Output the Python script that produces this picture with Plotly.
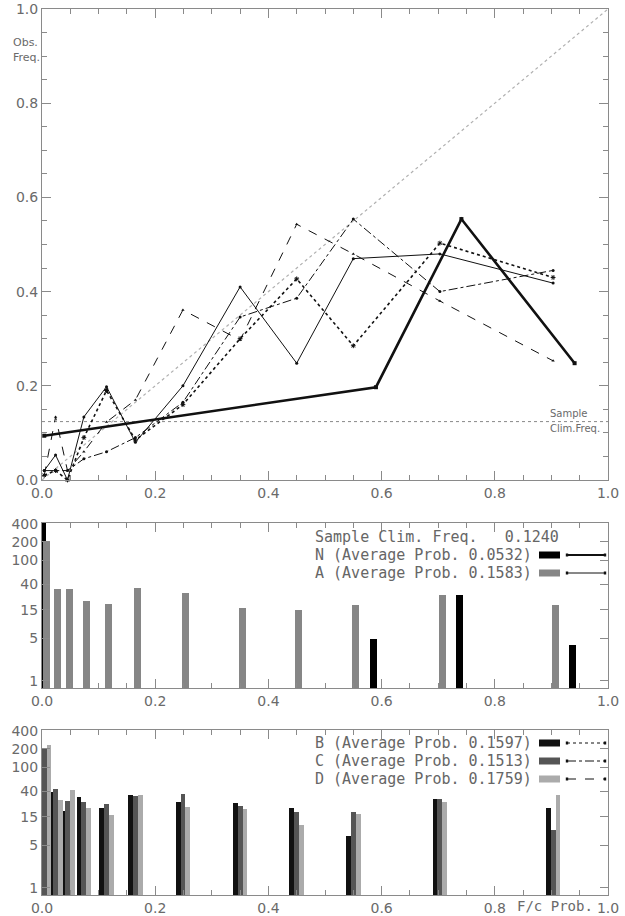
import plotly.graph_objects as go

# ---------------- data ----------------
bins = [0.004, 0.024, 0.045, 0.074, 0.114, 0.165, 0.249, 0.35, 0.45, 0.55, 0.703, 0.903]

N_x = [0.004, 0.59, 0.741, 0.941]
N_obs = [0.094, 0.197, 0.554, 0.248]
N_count = [480, 5, 26, 3.9]

A_obs = [0.02, 0.053, 0.0, 0.134, 0.198, 0.08, 0.20, 0.41, 0.248, 0.47, 0.48, 0.418]
A_count = [210, 33, 33, 21, 19, 35, 28, 16, 15, 18, 26, 18]

B_obs = [0.01, 0.02, 0.0, 0.09, 0.19, 0.085, 0.16, 0.30, 0.427, 0.285, 0.503, 0.43]
C_obs = [0.02, 0.02, 0.02, 0.045, 0.06, 0.09, 0.165, 0.346, 0.386, 0.554, 0.40, 0.445]
D_obs = [0.01, 0.134, 0.02, 0.06, 0.123, 0.17, 0.361, 0.297, 0.543, 0.48, 0.38, 0.253]

B_count = [220, 38, 19, 32, 21, 35, 26, 25, 21, 7.1, 30, 21]
C_count = [205, 43, 27, 26, 24, 33, 36, 23, 18, 18, 30, 9.2]
D_count = [230, 29, 41, 21, 16, 34, 22, 20, 11, 17, 26, 35]

clim_freq = 0.124
legend_mid = ["Sample Clim. Freq.   0.1240",
              "N (Average Prob. 0.0532)",
              "A (Average Prob. 0.1583)"]
legend_bot = ["B (Average Prob. 0.1597)",
              "C (Average Prob. 0.1513)",
              "D (Average Prob. 0.1759)"]
x_ticks = [0.0, 0.2, 0.4, 0.6, 0.8, 1.0]
log_ticks = [1, 5, 15, 40, 100, 200, 400]

# ---------------- geometry helpers ----------------
W, H = 625, 916
def px(x):
    return x / W
def py(y):
    return 1 - y / H

AX = "#8a8a8a"
TXT = "#6a6a6a"
FONT = "DejaVu Sans"
MONO = "DejaVu Sans Mono"

fig = go.Figure()

# ---------- top reliability plot ----------
fig.add_trace(go.Scatter(x=[0, 1], y=[0, 1], mode="lines",
                         line=dict(color="#b0b0b0", width=1.2, dash="dot"),
                         xaxis="x", yaxis="y", showlegend=False))
fig.add_trace(go.Scatter(x=[0, 1], y=[clim_freq, clim_freq], mode="lines",
                         line=dict(color="#888888", width=1, dash="dot"),
                         xaxis="x", yaxis="y", showlegend=False))

def rel_line(x, y, width, dash, symbol, msize):
    fig.add_trace(go.Scatter(x=x, y=y, mode="lines+markers",
                             line=dict(color="#111111", width=width, dash=dash),
                             marker=dict(color="#111111", size=msize, symbol=symbol),
                             xaxis="x", yaxis="y", showlegend=False, cliponaxis=False))

rel_line(bins, A_obs, 1, "solid", "circle", 3)
rel_line(bins, B_obs, 1.6, "dot", "asterisk-open", 4)
rel_line(bins, C_obs, 1, "dashdot", "circle", 3)
rel_line(bins, D_obs, 1, "dash", "triangle-up", 3)
rel_line(N_x, N_obs, 2.6, "solid", "square", 4)

# ---------- middle histogram ----------
w1 = 0.0124
fig.add_trace(go.Bar(x=[v - 0.004 for v in N_x], y=N_count, width=w1,
                     marker=dict(color="#000000", line=dict(width=0)), cliponaxis=False,
                     xaxis="x2", yaxis="y2", showlegend=False))
fig.add_trace(go.Bar(x=[v + 0.004 for v in bins], y=A_count, width=w1,
                     marker=dict(color="#868686", line=dict(width=0)),
                     xaxis="x2", yaxis="y2", showlegend=False))

# ---------- bottom histogram ----------
w2 = 0.0085
for off, cnt, col in [(-w2, B_count, "#111111"), (0, C_count, "#555555"), (w2, D_count, "#ababab")]:
    fig.add_trace(go.Bar(x=[v + off for v in bins], y=cnt, width=w2,
                         marker=dict(color=col, line=dict(width=0)),
                         xaxis="x3", yaxis="y3", showlegend=False))

# ---------------- axes ----------------
xdom = [px(42), px(608)]
top_dom = [py(480), py(9)]
mid_dom = [py(688), py(523)]
bot_dom = [py(895), py(730)]

def xaxis(anchor):
    return dict(domain=xdom, range=[0, 1], anchor=anchor, automargin=False,
                tickvals=x_ticks, ticktext=["%.1f" % t for t in x_ticks],
                ticks="inside", ticklen=9, tickcolor=AX, tickwidth=1,
                minor=dict(dtick=0.05, tick0=0, ticks="inside", ticklen=5, tickcolor=AX, tickwidth=1),
                showline=True, linecolor=AX, linewidth=1, mirror="ticks",
                showgrid=False, zeroline=False,
                tickfont=dict(family=FONT, size=14, color=TXT))

def logaxis(anchor, dom):
    return dict(domain=dom, type="log", range=[-0.12, 2.615], anchor=anchor, automargin=False,
                tickvals=log_ticks, ticktext=[str(t) for t in log_ticks],
                ticks="inside", ticklen=8, tickcolor=AX, tickwidth=1,
                showline=True, linecolor=AX, linewidth=1, mirror="ticks",
                showgrid=False, zeroline=False,
                tickfont=dict(family=FONT, size=14, color=TXT))

yt = [0.0, 0.2, 0.4, 0.6, 0.8, 1.0]
layout = dict(
    template="none",
    width=W, height=H, margin=dict(l=0, r=0, t=0, b=0, autoexpand=False),
    paper_bgcolor="white", plot_bgcolor="white",
    barmode="overlay", bargap=0,
    xaxis=xaxis("y"),
    yaxis=dict(domain=top_dom, range=[0, 1], anchor="x", automargin=False,
               tickvals=yt, ticktext=["%.1f" % t for t in yt],
               ticks="inside", ticklen=9, tickcolor=AX, tickwidth=1,
               minor=dict(dtick=0.05, tick0=0, ticks="inside", ticklen=5, tickcolor=AX, tickwidth=1),
               showline=True, linecolor=AX, linewidth=1, mirror="ticks",
               showgrid=False, zeroline=False,
               tickfont=dict(family=FONT, size=14, color=TXT)),
    xaxis2=xaxis("y2"),
    yaxis2=logaxis("x2", mid_dom),
    xaxis3=xaxis("y3"),
    yaxis3=logaxis("x3", bot_dom),
)
fig.update_layout(**layout)

# ---------------- annotations ----------------
ann = []
def text(x, y, s, size, anchor="left", color=TXT, family=FONT):
    ann.append(dict(x=px(x), y=py(y), xref="paper", yref="paper", text=s,
                    showarrow=False, xanchor=anchor, yanchor="middle",
                    font=dict(family=family, size=size, color=color)))

text(11, 42, "Obs.", 11)
text(11, 58, "Freq.", 11)
text(548, 413, "Sample", 10)
text(548, 428, "Clim.Freq.", 10)
text(515, 906, "F/c\u00a0Prob.", 14, family=MONO)

LEG = "#666666"
for i, s in enumerate(legend_mid):
    text(313, 537 + 18 * i, s.replace(" ", "\u00a0"), 15, color=LEG, family=MONO)
for i, s in enumerate(legend_bot):
    text(313, 743 + 18 * i, s.replace(" ", "\u00a0"), 15, color=LEG, family=MONO)
fig.update_layout(annotations=ann)

# ---------------- legend swatches ----------------
shapes = []
def rect(y, col):
    shapes.append(dict(type="rect", xref="paper", yref="paper",
                       x0=px(539), x1=px(560), y0=py(y + 3.5), y1=py(y - 3.5),
                       fillcolor=col, line=dict(width=0)))
def sample(y, width, dash):
    shapes.append(dict(type="line", xref="paper", yref="paper",
                       x0=px(567), x1=px(605), y0=py(y), y1=py(y),
                       line=dict(color="#111111", width=width, dash=dash)))
    for xx in (567, 605):
        shapes.append(dict(type="rect", xref="paper", yref="paper",
                           x0=px(xx - 1.2), x1=px(xx + 1.2), y0=py(y + 1.5), y1=py(y - 1.5),
                           fillcolor="#111111", line=dict(width=0)))

rect(555, "#000000"); sample(555, 2, "solid")
rect(573, "#868686"); sample(573, 1, "solid")
rect(743, "#111111"); sample(743, 1.2, "dot")
rect(761, "#555555"); sample(761, 1, "dashdot")
rect(779, "#ababab"); sample(779, 1, "dash")
fig.update_layout(shapes=shapes)

fig.write_html("out.html", config={"displayModeBar": False},
               post_script="document.body.style.margin='0';")
